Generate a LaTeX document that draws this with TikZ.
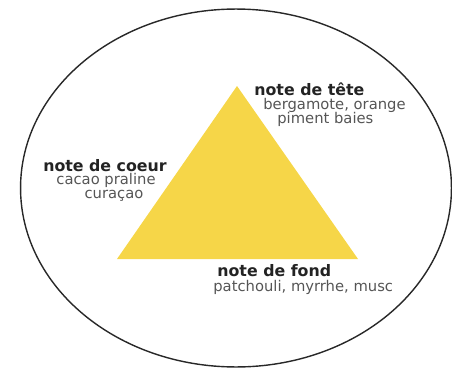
\documentclass[tikz,border=0pt]{standalone}
\usepackage{fontspec}
\setmainfont{DejaVu Sans}
\usepackage{xcolor}
\definecolor{pyryellow}{RGB}{246,214,72}
\definecolor{pyrline}{RGB}{40,40,40}
\definecolor{pyrtitle}{RGB}{35,35,35}
\definecolor{pyrtext}{RGB}{85,85,85}
\usetikzlibrary{positioning}
\tikzset{
  notetitle/.style={inner sep=0pt, font=\fontsize{9}{10}\selectfont\bfseries, text=pyrtitle},
  noteitems/.style={inner sep=0pt, font=\fontsize{8.4}{10}\selectfont, text=pyrtext}
}
\begin{document}
\begin{tikzpicture}[x=0.02cm, y=-0.02cm]
  \useasboundingbox (0,0) rectangle (452,368);

  % outer ellipse
  \coordinate (mid) at (236,188);
  \draw[pyrline, line width=0.8pt] (mid) ellipse [x radius=4.31cm, y radius=3.58cm];

  % the pyramid
  \coordinate (apex) at (237,86);
  \coordinate (baseL) at (117,259);
  \coordinate (baseR) at (358,259);
  \fill[pyryellow] (apex) -- (baseR) -- (baseL) -- cycle;

  % top notes
  \node[notetitle, anchor=base west] (tete) at (254,95) {note de tête};
  \node[noteitems, anchor=base west] (tete1) at (263,109) {bergamote, orange};
  \node[noteitems, anchor=base west] (tete2) at (277,123) {piment baies};

  % heart notes
  \node[notetitle, anchor=base] (coeur) at (105,171) {note de coeur};
  \node[noteitems, anchor=base] (coeur1) at (106,184) {cacao praline};
  \node[noteitems, anchor=base] (coeur2) at (114,198) {curaçao};

  % base notes
  \node[notetitle, anchor=base west] (fond) at (217,276) {note de fond};
  \node[noteitems, anchor=base west] (fond1) at (213,291) {patchouli, myrrhe, musc};
\end{tikzpicture}
\end{document}
